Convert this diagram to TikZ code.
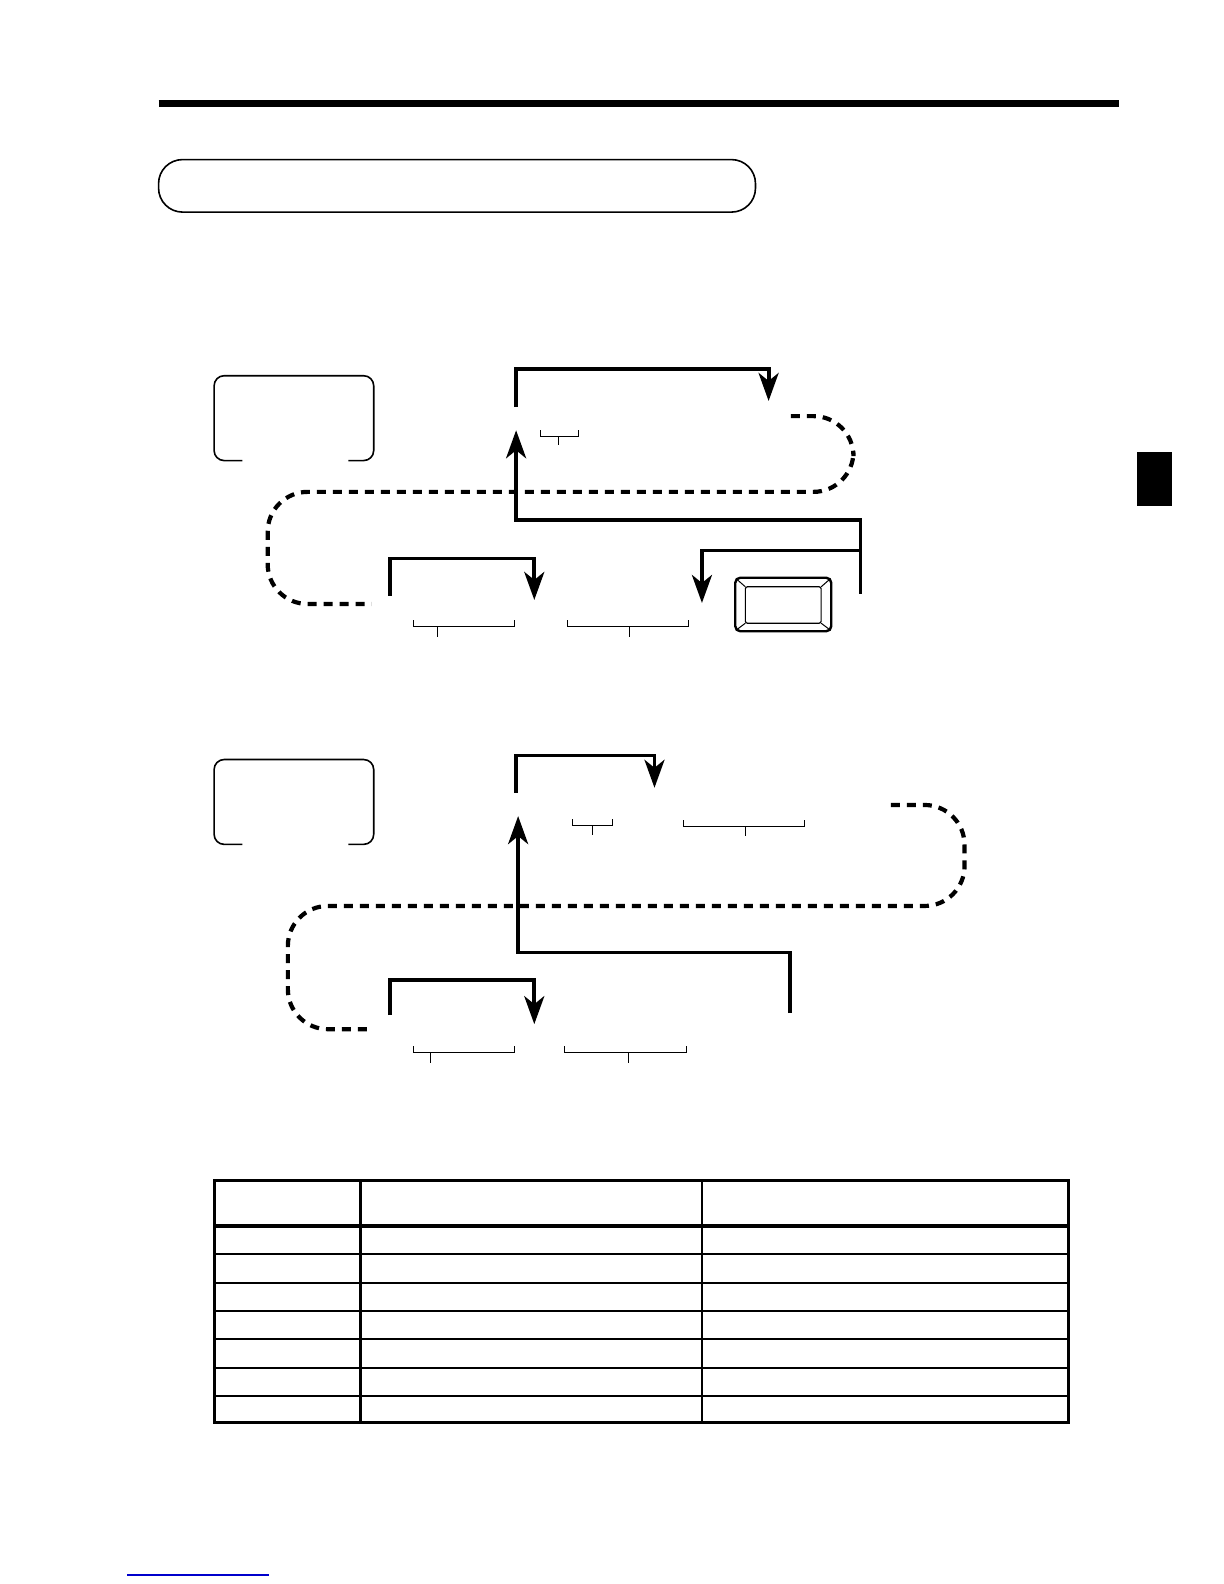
\documentclass[tikz,border=0pt]{standalone}
\usetikzlibrary{arrows.meta}
\usetikzlibrary{positioning}
\tikzset{
  % heavy key route
  route/.style = {
    draw = black,
    line width = 3.8pt
  },
  routearr/.style = {
    route,
    -{Stealth[length=28pt, width=20pt, inset=8pt]}
  },
  % optional part of the sequence
  skip path/.style = {
    draw = black,
    line width = 4.2pt,
    dash pattern = on 9pt off 7pt,
    rounded corners = 40pt
  },
  % bracket under a key entry
  span mark/.style = {
    draw = black,
    line width = 1pt
  },
  % open display frame
  frame box/.style = {
    draw = black,
    line width = 1.6pt,
    rounded corners = 10pt
  },
  grid line/.style = {
    draw = black,
    line width = 2pt
  }
}

\begin{document}
\begin{tikzpicture}[x=1.01pt, y=-1.01pt]
  \useasboundingbox (0,0) rectangle (1211.88,1568.32);

  % page head
  \draw[line width = 7pt] (157,102) -- (1108,102);
  \draw[line width = 1.6pt, rounded corners = 24pt] (157,158) rectangle (748,210);
  \fill (1126,448) rectangle (1160,501);

  % ---------- first sequence ----------
  \draw[frame box] (240,456) -- (212,456) -- (212,372) -- (370,372) -- (370,456) -- (345,456);

  \coordinate (loopA) at (511,403);
  \coordinate (loopB) at (761,397);
  \draw[routearr] (loopA) |- ++(125,-38) -| (loopB);

  \draw[span mark] (535,426) |- (573,432) -- (573,426);
  \draw[span mark] (553,432) -- (553,441);

  \coordinate (skipA) at (783,412);
  \coordinate (skipB) at (368,598);
  \draw[skip path] (skipA) -- (845,412) -- (845,487) -- (265,487) -- (265,598) -- (skipB);

  \coordinate (back) at (511,426);
  \coordinate (join) at (852,588);
  \coordinate (split) at (852,545);
  \coordinate (keyin) at (695,597);
  \draw[routearr] (join) |- (511,515) -- (back);
  \draw[routearr] (split) -| (keyin);

  \coordinate (amtA) at (386,590);
  \coordinate (amtB) at (529,594);
  \draw[routearr] (amtA) |- ++(71,-37) -| (amtB);

  \draw[span mark] (409,614) |- (509,620) -- (509,614);
  \draw[span mark] (433,620) -- (433,631);
  \draw[span mark] (562,614) |- (682,620) -- (682,614);
  \draw[span mark] (623,620) -- (623,631);

  % key top
  \draw[line width = 2.4pt, rounded corners = 5pt] (728,572) rectangle (823,625);
  \draw[line width = 1.2pt, rounded corners = 2pt] (738,581) rectangle (813,617);
  \draw[line width = 1pt] (730,574) -- (738,581) (821,574) -- (813,581)
    (730,623) -- (738,617) (821,623) -- (813,617);

  % ---------- second sequence ----------
  \draw[frame box] (240,836) -- (212,836) -- (212,752) -- (370,752) -- (370,836) -- (345,836);

  \coordinate (loopC) at (511,785);
  \coordinate (loopD) at (648,780);
  \draw[routearr] (loopC) |- ++(68,-37) -| (loopD);

  \draw[span mark] (567,811) |- (606,817) -- (606,811);
  \draw[span mark] (587,817) -- (587,827);
  \draw[span mark] (677,812) |- (797,818) -- (797,812);
  \draw[span mark] (738,818) -- (738,828);

  \coordinate (skipC) at (882,797);
  \coordinate (skipD) at (370,1019);
  \draw[skip path] (skipC) -- (955,797) -- (955,897) -- (285,897) -- (285,1019) -- (skipD);

  \coordinate (backB) at (513,808);
  \coordinate (joinB) at (782,1003);
  \draw[routearr] (joinB) |- (513,943) -- (backB);

  \coordinate (amtC) at (386,1005);
  \coordinate (amtD) at (529,1014);
  \draw[routearr] (amtC) |- ++(71,-35) -| (amtD);

  \draw[span mark] (409,1036) |- (509,1042) -- (509,1036);
  \draw[span mark] (426,1042) -- (426,1052);
  \draw[span mark] (559,1036) |- (680,1042) -- (680,1036);
  \draw[span mark] (622,1042) -- (622,1052);

  % ---------- table ----------
  \draw[line width = 3pt] (212,1169) rectangle (1058,1408);
  \draw[line width = 3pt] (357,1169) -- (357,1408);
  \draw[grid line] (695,1169) -- (695,1408);
  \draw[line width = 3.5pt] (212,1214) -- (1058,1214);
  \foreach \y in {1242,1270,1298,1326,1354,1382}
    \draw[grid line] (212,\y) -- (1058,\y);

  % link line at the foot
  \draw[blue!80!black, line width = 1.5pt] (126,1559.5) -- (266,1559.5);
\end{tikzpicture}
\end{document}
